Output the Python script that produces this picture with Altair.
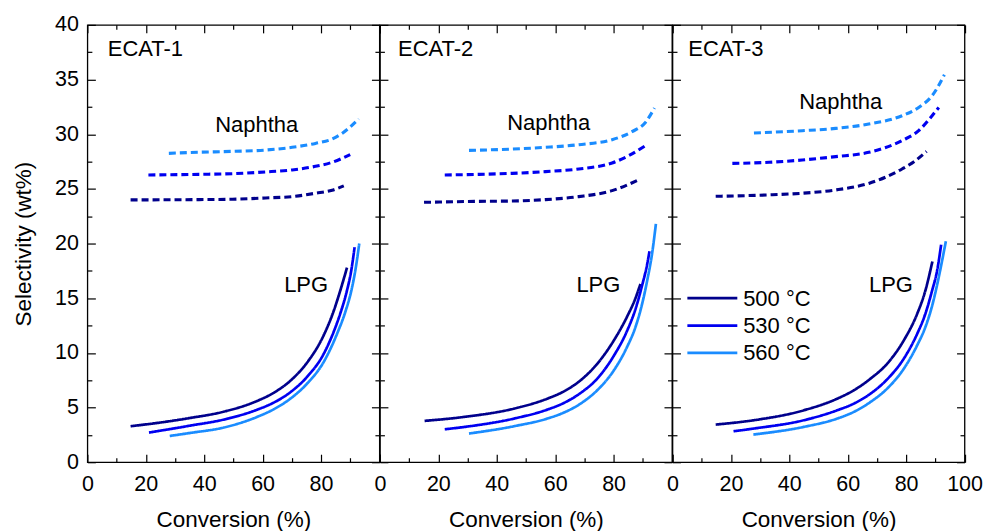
import altair as alt
import pandas as pd

# ---------------- data ----------------
panels = ["ECAT-1", "ECAT-2", "ECAT-3"]
temps = ["500 °C", "530 °C", "560 °C"]
colors = ["#00008C", "#0000F0", "#1A8CFF"]
products = ["LPG", "Naphtha"]

# ECAT-1
e1_lpg_500_x = [14.8, 23.9, 35.3, 46.7, 58.1, 63.8, 69.5, 75.2, 80.9, 84.3, 86.6, 88.9]
e1_lpg_500_y = [3.29, 3.59, 4.05, 4.62, 5.6, 6.35, 7.45, 9.1, 11.6, 13.8, 15.7, 17.8]
e1_lpg_530_x = [21.1, 35.3, 46.7, 58.1, 63.8, 69.5, 75.2, 80.9, 84.3, 86.6, 88.7, 90.4, 91.5]
e1_lpg_530_y = [2.71, 3.35, 3.9, 4.8, 5.45, 6.4, 7.8, 9.9, 11.9, 13.6, 15.5, 17.6, 19.66]
e1_lpg_560_x = [28.2, 35.3, 46.7, 58.1, 63.8, 69.5, 75.2, 80.9, 85.5, 88.3, 90.4, 91.9, 93.1]
e1_lpg_560_y = [2.4, 2.68, 3.17, 4.14, 4.84, 5.81, 7.18, 9.16, 11.75, 13.73, 15.71, 17.78, 20.0]
e1_nap_500_x = [14.8, 38.2, 49.6, 61.0, 70.1, 78.1, 83.8, 87.8]
e1_nap_500_y = [23.99, 24.02, 24.05, 24.17, 24.29, 24.6, 24.88, 25.27]
e1_nap_530_x = [20.9, 38.2, 49.6, 61.0, 70.1, 78.1, 83.8, 90.0]
e1_nap_530_y = [26.27, 26.33, 26.39, 26.55, 26.73, 27.06, 27.43, 28.13]
e1_nap_560_x = [27.9, 38.2, 49.6, 61.0, 70.1, 78.1, 83.8, 87.2, 92.9]
e1_nap_560_y = [28.25, 28.35, 28.43, 28.55, 28.8, 29.16, 29.56, 30.07, 31.4]

# ECAT-2
e2_lpg_500_x = [15.3, 28.8, 45.9, 57.3, 63.0, 68.7, 74.4, 80.1, 84.6, 87.5, 89.2]
e2_lpg_500_y = [3.78, 4.14, 4.9, 5.81, 6.48, 7.49, 9.0, 11.14, 13.3, 15.0, 16.3]
e2_lpg_530_x = [22.2, 28.8, 45.9, 57.3, 63.0, 68.7, 74.4, 80.1, 84.6, 87.5, 89.8, 91.5, 92.3]
e2_lpg_530_y = [3.01, 3.22, 3.99, 4.81, 5.42, 6.33, 7.64, 9.74, 12.0, 14.0, 16.2, 18.1, 19.3]
e2_lpg_560_x = [30.5, 45.9, 57.3, 63.0, 68.7, 74.4, 80.1, 84.6, 87.5, 89.8, 91.5, 93.2, 94.5]
e2_lpg_560_y = [2.62, 3.29, 3.99, 4.54, 5.36, 6.58, 8.4, 10.53, 12.36, 14.5, 16.6, 19.1, 21.8]
e2_nap_500_x = [15.1, 33.9, 45.3, 56.7, 68.1, 79.5, 88.0]
e2_nap_500_y = [23.77, 23.86, 23.89, 24.02, 24.29, 24.84, 25.75]
e2_nap_530_x = [22.2, 33.9, 45.3, 56.7, 68.1, 79.5, 85.2, 90.9]
e2_nap_530_y = [26.27, 26.33, 26.42, 26.58, 26.82, 27.37, 28.04, 28.95]
e2_nap_560_x = [30.5, 45.3, 56.7, 68.1, 79.5, 86.3, 90.9, 94.0]
e2_nap_560_y = [28.52, 28.64, 28.8, 29.04, 29.5, 30.23, 31.08, 32.39]

# ECAT-3
e3_lpg_500_x = [14.8, 27.9, 45.0, 56.4, 62.1, 67.8, 73.5, 79.2, 83.8, 86.6, 89.0]
e3_lpg_500_y = [3.44, 3.84, 4.75, 5.81, 6.58, 7.64, 9.01, 11.14, 13.58, 15.7, 18.36]
e3_lpg_530_x = [20.9, 27.9, 45.0, 56.4, 62.1, 67.8, 73.5, 79.2, 83.8, 86.6, 88.9, 90.6, 92.0]
e3_lpg_530_y = [2.83, 3.08, 3.84, 4.75, 5.36, 6.27, 7.58, 9.47, 11.75, 13.58, 15.7, 17.5, 19.9]
e3_lpg_560_x = [27.7, 45.0, 56.4, 62.1, 67.8, 73.5, 79.2, 83.8, 86.6, 88.9, 90.6, 92.3, 93.6]
e3_lpg_560_y = [2.53, 3.23, 3.99, 4.6, 5.51, 6.73, 8.55, 10.7, 12.36, 14.3, 16.2, 18.4, 20.2]
e3_nap_500_x = [14.8, 33.1, 44.4, 55.9, 67.2, 78.6, 83.2, 87.0]
e3_nap_500_y = [24.32, 24.45, 24.6, 24.9, 25.5, 26.82, 27.58, 28.43]
e3_nap_530_x = [20.5, 33.1, 44.4, 55.9, 67.2, 78.6, 84.3, 88.9, 91.2]
e3_nap_530_y = [27.33, 27.43, 27.64, 27.95, 28.34, 29.41, 30.32, 31.69, 32.45]
e3_nap_560_x = [27.9, 44.4, 55.9, 67.2, 78.6, 84.3, 88.9, 93.1]
e3_nap_560_y = [30.11, 30.32, 30.53, 30.93, 31.69, 32.45, 33.52, 35.43]

# annotation texts (data coordinates)
title_x = [7.0, 6.2, 5.4]
title_y = [37.17, 37.17, 37.17]
naphtha_x = [58.0, 57.8, 57.6]
naphtha_y = [30.23, 30.4, 32.26]
lpg_x = [74.9, 74.8, 74.8]
lpg_y = [15.55, 15.55, 15.55]

# legend (inside ECAT-3 panel)
legend_x1 = 5.1
legend_x2 = 22.2
legend_text_x = 24.2
legend_y = [15.0, 12.5, 10.0]

x_major = [0, 20, 40, 60, 80, 100]
x_minor = [10, 30, 50, 70, 90]
y_major = [0, 5, 10, 15, 20, 25, 30, 35, 40]
y_minor = [2.5, 7.5, 12.5, 17.5, 22.5, 27.5, 32.5, 37.5]

# ---------------- build tables ----------------
curves = [
    ("ECAT-1", "LPG", "500 °C", e1_lpg_500_x, e1_lpg_500_y),
    ("ECAT-1", "LPG", "530 °C", e1_lpg_530_x, e1_lpg_530_y),
    ("ECAT-1", "LPG", "560 °C", e1_lpg_560_x, e1_lpg_560_y),
    ("ECAT-1", "Naphtha", "500 °C", e1_nap_500_x, e1_nap_500_y),
    ("ECAT-1", "Naphtha", "530 °C", e1_nap_530_x, e1_nap_530_y),
    ("ECAT-1", "Naphtha", "560 °C", e1_nap_560_x, e1_nap_560_y),
    ("ECAT-2", "LPG", "500 °C", e2_lpg_500_x, e2_lpg_500_y),
    ("ECAT-2", "LPG", "530 °C", e2_lpg_530_x, e2_lpg_530_y),
    ("ECAT-2", "LPG", "560 °C", e2_lpg_560_x, e2_lpg_560_y),
    ("ECAT-2", "Naphtha", "500 °C", e2_nap_500_x, e2_nap_500_y),
    ("ECAT-2", "Naphtha", "530 °C", e2_nap_530_x, e2_nap_530_y),
    ("ECAT-2", "Naphtha", "560 °C", e2_nap_560_x, e2_nap_560_y),
    ("ECAT-3", "LPG", "500 °C", e3_lpg_500_x, e3_lpg_500_y),
    ("ECAT-3", "LPG", "530 °C", e3_lpg_530_x, e3_lpg_530_y),
    ("ECAT-3", "LPG", "560 °C", e3_lpg_560_x, e3_lpg_560_y),
    ("ECAT-3", "Naphtha", "500 °C", e3_nap_500_x, e3_nap_500_y),
    ("ECAT-3", "Naphtha", "530 °C", e3_nap_530_x, e3_nap_530_y),
    ("ECAT-3", "Naphtha", "560 °C", e3_nap_560_x, e3_nap_560_y),
]
rows = []
for pn, prod, temp, xs_, ys_ in curves:
    for i, (a, b) in enumerate(zip(xs_, ys_)):
        rows.append({"panel": pn, "product": prod, "temp": temp,
                     "conv": a, "sel": b, "idx": i, "series": pn + prod + temp})
df = pd.DataFrame(rows)

frame = pd.DataFrame({"conv": [0, 100], "sel": [0, 40]})
legend_df = pd.DataFrame({"temp": temps, "x1": [legend_x1] * 3, "x2": [legend_x2] * 3,
                          "tx": [legend_text_x] * 3, "y": legend_y})

FONT = "Liberation Sans"
TXT = 22


def xscale():
    return alt.Scale(domain=[0, 100], nice=False, zero=False)


def yscale():
    return alt.Scale(domain=[0, 40], nice=False, zero=False)


def make_panel(k):
    name = panels[k]
    d = df[df["panel"] == name]

    xaxis_kw = dict(orient="bottom", values=x_major, tickSize=8, offset=-8,
                    labelPadding=11, labelFlush=False, title="Conversion (%)",
                    titlePadding=14)
    if k < 2:
        xaxis_kw["labelExpr"] = "datum.value == 100 ? '' : datum.label"
    yaxis_kw = dict(orient="left", values=y_major, tickSize=8, offset=-8)
    if k == 0:
        yaxis_kw.update(labelPadding=9, title="Selectivity (wt%)", titlePadding=19)
    else:
        yaxis_kw.update(labels=False)

    lines = alt.Chart(d).mark_line(interpolate="monotone").encode(
        x=alt.X("conv:Q", scale=xscale(), axis=alt.Axis(**xaxis_kw)),
        y=alt.Y("sel:Q", scale=yscale(),
                axis=alt.Axis(**yaxis_kw), title="Selectivity (wt%)" if k == 0 else None),
        color=alt.Color("temp:N", scale=alt.Scale(domain=temps, range=colors), legend=None),
        strokeDash=alt.StrokeDash("product:N",
                                  scale=alt.Scale(domain=products, range=[[1, 0], [7, 4]]),
                                  legend=None),
        strokeWidth=alt.StrokeWidth("product:N",
                                    scale=alt.Scale(domain=products, range=[2.7, 3.1]),
                                    legend=None),
        detail="series:N",
        order="idx:Q",
    )

    def ticks(xax, yax):
        return alt.Chart(frame).mark_point(opacity=0).encode(
            x=alt.X("conv:Q", scale=xscale(), axis=xax),
            y=alt.Y("sel:Q", scale=yscale(), axis=yax),
        )

    minor = ticks(
        alt.Axis(orient="bottom", values=x_minor, tickSize=4.5, offset=-4.5, labels=False, title=None),
        alt.Axis(orient="left", values=y_minor, tickSize=4.5, offset=-4.5, labels=False, title=None),
    )
    top_right = ticks(
        alt.Axis(orient="top", values=x_major, tickSize=8, offset=-8, labels=False, title=None),
        alt.Axis(orient="right", values=y_major, tickSize=8, offset=-8, labels=False, title=None),
    )
    top_right_minor = ticks(
        alt.Axis(orient="top", values=x_minor, tickSize=4.5, offset=-4.5, labels=False, title=None),
        alt.Axis(orient="right", values=y_minor, tickSize=4.5, offset=-4.5, labels=False, title=None),
    )

    ann_title = alt.Chart(pd.DataFrame({"x": [title_x[k]], "y": [title_y[k]], "t": [name]})).mark_text(
        align="left", baseline="alphabetic", font=FONT, fontSize=TXT, color="black"
    ).encode(
        x=alt.X("x:Q", scale=xscale(), axis=None),
        y=alt.Y("y:Q", scale=yscale(), axis=None),
        text="t:N",
    )
    ann_prod = alt.Chart(pd.DataFrame({"x": [naphtha_x[k], lpg_x[k]],
                                       "y": [naphtha_y[k], lpg_y[k]],
                                       "t": ["Naphtha", "LPG"]})).mark_text(
        align="center", baseline="alphabetic", font=FONT, fontSize=TXT, color="black"
    ).encode(
        x=alt.X("x:Q", scale=xscale(), axis=None),
        y=alt.Y("y:Q", scale=yscale(), axis=None),
        text="t:N",
    )

    layers = [lines, minor, top_right, top_right_minor, ann_title, ann_prod]

    if k == 2:
        leg_rules = alt.Chart(legend_df).mark_rule(strokeWidth=2.8).encode(
            x=alt.X("x1:Q", scale=xscale(), axis=None),
            x2="x2:Q",
            y=alt.Y("y:Q", scale=yscale(), axis=None),
            color=alt.Color("temp:N", scale=alt.Scale(domain=temps, range=colors), legend=None),
        )
        leg_text = alt.Chart(legend_df).mark_text(
            align="left", baseline="alphabetic", dy=7.5, font=FONT, fontSize=TXT, color="black"
        ).encode(
            x=alt.X("tx:Q", scale=xscale(), axis=None),
            y=alt.Y("y:Q", scale=yscale(), axis=None),
            text="temp:N",
        )
        layers += [leg_rules, leg_text]

    return alt.layer(*layers).resolve_scale(x="independent", y="independent").properties(
        width=292.5, height=438
    )


chart = alt.hconcat(make_panel(0), make_panel(1), make_panel(2), spacing=0, bounds="flush").properties(
    padding={"left": 11.5, "top": 12.5, "right": 0, "bottom": 5}
).configure_view(
    stroke="black", strokeWidth=1.3
).configure_axis(
    grid=False, domain=False, tickColor="black", tickWidth=1.2,
    labelFont=FONT, labelFontSize=21.5, labelColor="black",
    titleFont=FONT, titleFontSize=22.5, titleFontWeight="normal", titleColor="black",
)

chart.save("out.html", embed_options={"renderer": "svg", "actions": False})
